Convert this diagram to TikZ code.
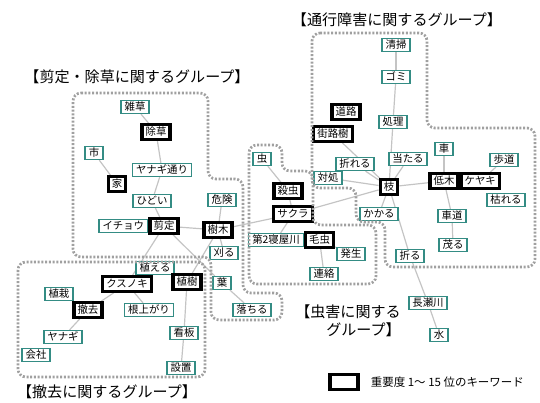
\documentclass[tikz,border=0pt]{standalone}
\usepackage{fontspec}
\newfontfamily\jpfont{Noto Sans CJK JP}
\usetikzlibrary{positioning,backgrounds}
\definecolor{kwteal}{RGB}{52,140,132}
\definecolor{linkgray}{RGB}{196,196,196}
\definecolor{grpgray}{RGB}{160,160,160}

\begin{document}
\begin{tikzpicture}[x=0.75pt,y=-0.75pt,
    kw/.style={draw=kwteal,line width=1.1pt,fill=white,font=\jpfont\fontsize{7.8}{8}\selectfont,inner xsep=2.7pt,inner ysep=0.8pt,text height=6.8pt,text depth=1.2pt},
    imp/.style={kw,draw=black,line width=2.3pt,inner ysep=1.5pt},
    link/.style={draw=linkgray,line width=0.9pt},
    grp/.style={draw=grpgray,line width=2pt,dash pattern=on 1.5pt off 1.3pt,rounded corners=6pt},
    ttl/.style={font=\jpfont\fontsize{11.3}{13.5}\selectfont}]
                    \useasboundingbox (0,0) rectangle (540,403);
                    % 剪定・除草
                    \node[kw] (zasso) at (135,107) {雑草};
                    \node[imp] (josou) at (156,132) {除草};
                    \node[kw] (shi) at (94,153) {市};
                    \node[kw] (yanagidori) at (162,170) {ヤナギ通り};
                    \node[imp] (ie) at (117,184) {家};
                    \node[kw] (hidoi) at (152,201) {ひどい};
                    \node[imp] (sentei) at (164,226) {剪定};
                    \node[kw,left=0pt of sentei] (icho) {イチョウ};
                    \node[kw] (kiken) at (222,200) {危険};
                    \node[imp] (jumoku) at (218,230) {樹木};
                    \node[kw] (karu) at (224,253) {刈る};
                    \node[kw] (ha) at (222,283) {葉};
                    \node[kw] (ochiru) at (252,310) {落ちる};
                    % 撤去
                    \node[kw] (ueru) at (155,268) {植える};
                    \node[imp] (kusunoki) at (127,284) {クスノキ};
                    \node[imp] (shokuju) at (187,282) {植樹};
                    \node[kw] (shokusai) at (59,294) {植栽};
                    \node[imp] (tekkyo) at (88,310) {撤去};
                    \node[kw] (neagari) at (149,310) {根上がり};
                    \node[kw] (kanban) at (184,333) {看板};
                    \node[kw] (yanagi) at (63,337) {ヤナギ};
                    \node[kw] (kaisha) at (36,355) {会社};
                    \node[kw] (secchi) at (181,368) {設置};
                    % 虫害
                    \node[kw] (mushi) at (262,159) {虫};
                    \node[imp] (sacchu) at (288,191) {殺虫};
                    \node[imp] (sakura) at (293,214) {サクラ};
                    \node[kw] (neyagawa) at (276,240) {第2寝屋川};
                    \node[imp,right=0pt of neyagawa] (kemushi) {毛虫};
                    \node[kw] (hassei) at (351,254) {発生};
                    \node[kw] (renraku) at (324,274) {連絡};
                    % 通行障害
                    \node[kw] (seisou) at (396,45) {清掃};
                    \node[kw] (gomi) at (396,77) {ゴミ};
                    \node[imp] (douro) at (346,112) {道路};
                    \node[kw] (shori) at (393,122) {処理};
                    \node[imp] (gairoju) at (333,134) {街路樹};
                    \node[kw] (kuruma) at (444,149) {車};
                    \node[kw] (ataru) at (408,159) {当たる};
                    \node[kw] (hodou) at (504,160) {歩道};
                    \node[kw] (oreru) at (355,164) {折れる};
                    \node[kw] (taisho) at (328,178) {対処};
                    \node[imp] (eda) at (389,187) {枝};
                    \node[imp] (teiboku) at (444,181) {低木};
                    \node[imp,right=0pt of teiboku] (keyaki) {ケヤキ};
                    \node[kw] (kareru) at (506,200) {枯れる};
                    \node[kw] (kakaru) at (379,214) {かかる};
                    \node[kw] (shadou) at (452,216) {車道};
                    \node[kw] (shigeru) at (453,245) {茂る};
                    \node[kw] (oru) at (410,256) {折る};
                    \node[kw] (nagasegawa) at (428,303) {長瀬川};
                    \node[kw] (mizu) at (439,335) {水};
                    \begin{scope}[on background layer]
                    \draw[link] (zasso) -- (josou);
                    \draw[link] (josou) -- (yanagidori);
                    \draw[link] (yanagidori) -- (hidoi);
                    \draw[link] (hidoi) -- (sentei);
                    \draw[link] (shi) -- (ie);
                    \draw[link] (sentei) -- (jumoku);
                    \draw[link] (kiken) -- (jumoku);
                    \draw[link] (jumoku) -- (karu);
                    \draw[link] (sentei) -- (kusunoki);
                    \draw[link] (sentei) -- (ha);
                    \draw[link] (jumoku) -- (shokuju);
                    \draw[link] (ha) -- (ochiru);
                    \draw[link] (kusunoki) -- (tekkyo);
                    \draw[link] (kusunoki) -- (neagari);
                    \draw[link] (tekkyo) -- (yanagi);
                    \draw[link] (shokuju) -- (kanban);
                    \draw[link] (kanban) -- (secchi);
                    \draw[link] (jumoku) -- (sakura);
                    \draw[link] (mushi) -- (sacchu);
                    \draw[link] (sacchu) -- (sakura);
                    \draw[link] (sakura) -- (neyagawa);
                    \draw[link] (sakura) -- (eda);
                    \draw[link] (kemushi) -- (renraku);
                    \draw[link] (kemushi) -- (hassei);
                    \draw[link] (seisou) -- (gomi);
                    \draw[link] (gomi) -- (shori);
                    \draw[link] (shori) -- (eda);
                    \draw[link] (ataru) -- (eda);
                    \draw[link] (kuruma) -- (teiboku);
                    \draw[link] (eda) -- (teiboku);
                    \draw[link] (teiboku) -- (shadou);
                    \draw[link] (shadou) -- (shigeru);
                    \draw[link] (keyaki) -- (hodou);
                    \draw[link] (oreru) -- (eda);
                    \draw[link] (gairoju) -- (eda);
                    \draw[link] (taisho) -- (eda);
                    \draw[link] (eda) -- (kakaru);
                    \draw[link] (eda) -- (oru);
                    \draw[link] (oru) -- (nagasegawa);
                    \draw[link] (nagasegawa) -- (mizu);
                    \end{scope}
                    \draw[grp] (73,93) -- (208,93) -- (208,179) -- (243,179) -- (243,293) -- (282,293) -- (282,320) -- (211,320) -- (211,257) -- (73,257) -- cycle;
                    \draw[grp] (18,262) rectangle (205,377);
                    \draw[grp] (249,145) -- (282,145) -- (282,171) -- (313,171) -- (313,225) -- (376,225) -- (376,284) -- (249,284) -- cycle;
                    \draw[grp] (312,33) -- (427,33) -- (427,128) -- (535,128) -- (535,267) -- (385,267) -- (385,222) -- (356,222) -- (356,188) -- (312,188) -- cycle;
                    \node[ttl] (t-sentei) at (137,77) {【剪定・除草に関するグループ】};
                    \node[ttl] (t-tsuko) at (397,20) {【通行障害に関するグループ】};
                    \node[ttl] (t-tekkyo) at (107,392) {【撤去に関するグループ】};
                    \node[ttl,align=right] (t-chugai) at (348,321) {【虫害に関する\\グループ】};
                    \node[draw=black,line width=2.3pt,minimum width=21pt,minimum height=11pt] (legend) at (344,382) {};
                    \node[font=\jpfont\fontsize{8.6}{10}\selectfont,right=5pt of legend] (legtext) {重要度 1～ 15 位のキーワード};
                \end{tikzpicture}
\end{document}
